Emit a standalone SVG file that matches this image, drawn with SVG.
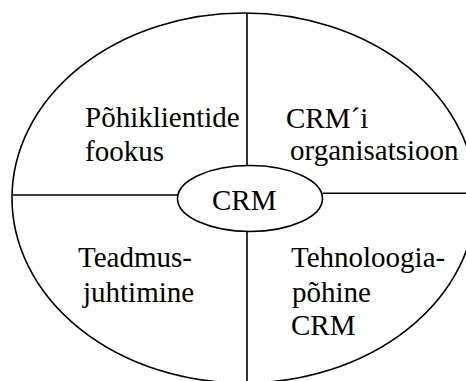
<svg xmlns="http://www.w3.org/2000/svg" width="466" height="381" viewBox="0 0 466 381">
<style>
.s{fill:none;stroke:#000;stroke-width:1.6}
text{font-family:'Liberation Serif','DejaVu Serif','Times New Roman',Times,serif;font-size:29px;fill:#000}
</style>
<rect width="466" height="381" fill="#fff"/>
<g id="outer"><ellipse class="s" cx="244" cy="198" rx="232" ry="185"/></g>
<g id="connectors">
<line class="s" x1="247" y1="13" x2="247" y2="165.5"/>
<line class="s" x1="247" y1="231.5" x2="247" y2="381"/>
<line class="s" x1="13" y1="195" x2="177.5" y2="195"/>
<line class="s" x1="322.5" y1="193.3" x2="466" y2="193.3"/>
</g>
<g id="center">
<ellipse class="s" cx="250" cy="198.5" rx="72.5" ry="33"/>
<text x="212" y="210" font-family="Liberation Serif, serif">CRM</text>
</g>
<g id="q1">
<text x="85" y="127">Põhiklientide</text>
<text x="85" y="161">fookus</text>
</g>
<g id="q2">
<text x="286" y="128">CRM´i</text>
<text x="290" y="160">organisatsioon</text>
</g>
<g id="q3">
<text x="78" y="267">Teadmus-</text>
<text x="83" y="301.5">juhtimine</text>
</g>
<g id="q4">
<text x="291" y="267">Tehnoloogia-</text>
<text x="292" y="301.5">põhine</text>
<text x="291" y="335">CRM</text>
</g>
</svg>
